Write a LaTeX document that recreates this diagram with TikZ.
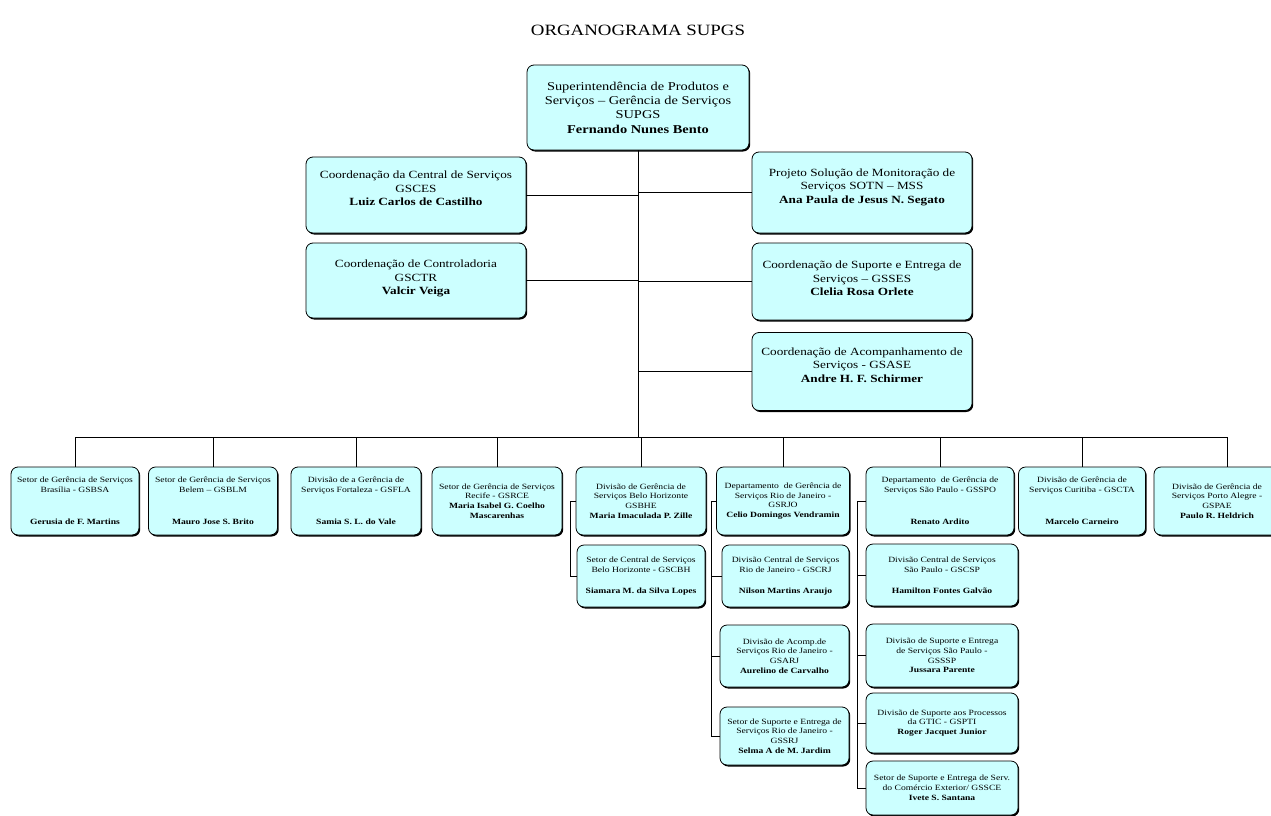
\documentclass[tikz,border=0pt]{standalone}
\usepackage{fontspec}
\setmainfont[FakeStretch=1.2]{Liberation Serif}
\usepackage{tikz}
\usetikzlibrary{positioning, shadows}

\definecolor{boxfill}{RGB}{204,255,255}

\tikzset{
	unit/.style={draw, thick, fill=boxfill, rounded corners=7pt, align=center, inner sep=1pt,
		drop shadow={shadow xshift=1.2pt, shadow yshift=-1.5pt, fill=black, opacity=1}},
	dims/.style 2 args={minimum width=#1pt, minimum height=#2pt},
	topunit/.style={unit, font=\fontsize{12}{14.3}\selectfont},
	midunit/.style={unit, font=\fontsize{11}{13.5}\selectfont},
	lowunit/.style={unit, font=\fontsize{8}{9.8}\selectfont},
	link/.style={draw, line width=1pt}
}

\begin{document}
\begin{tikzpicture}[x=1pt, y=-1pt]
	\useasboundingbox (0,0) rectangle (1271,816);
	
	\node (title) at (638,30) {\fontsize{15.7}{18}\selectfont ORGANOGRAMA SUPGS};
	
	% direction
	\node (sup) [topunit, dims={222}{85}] at (638,107.5) {Superintendência de Produtos e\\Serviços -- Gerência de Serviços\\SUPGS\\\textbf{Fernando Nunes Bento}};
	
	% coordenacoes
	\node (gsces) [midunit, dims={220}{76}] at (416,195) {Coordenação da Central de Serviços\\GSCES\\\textbf{Luiz Carlos de Castilho}\\\mbox{}};
	\node (gsctr) [midunit, dims={220}{75}] at (416,280.5) {Coordenação de Controladoria\\GSCTR\\\textbf{Valcir Veiga}\\[-7pt]\mbox{}};
	\node (sotn) [midunit, dims={220}{81}] at (862,192.5) {Projeto Solução de Monitoração de\\Serviços SOTN -- MSS\\\textbf{Ana Paula de Jesus N. Segato}\\\mbox{}};
	\node (gsses) [midunit, dims={220}{77}] at (862,281.5) {Coordenação de Suporte e Entrega de\\Serviços -- GSSES\\\textbf{Clelia Rosa Orlete}\\[-7pt]\mbox{}};
	\node (gsase) [midunit, dims={220}{78}] at (862,371.5) {Coordenação de Acompanhamento de\\Serviços - GSASE\\\textbf{Andre H. F. Schirmer}\\\mbox{}};
	
	% gerencias regionais
	\node (gsbsa) [lowunit, dims={128}{68}] at (75,501) {Setor de Gerência de Serviços\\Brasília - GSBSA\\[22pt]\textbf{Gerusia de F. Martins}};
	\node (gsblm) [lowunit, dims={129}{68}] at (213,501) {Setor de Gerência de Serviços\\Belem -- GSBLM\\[22pt]\textbf{Mauro Jose S. Brito}};
	\node (gsfla) [lowunit, dims={130}{68}] at (356,501) {Divisão de a Gerência de\\Serviços Fortaleza - GSFLA\\[22pt]\textbf{Samia S. L. do Vale}};
	\node (gsrce) [lowunit, dims={130}{68}] at (497,501) {Setor de Gerência de Serviços\\Recife - GSRCE\\\textbf{Maria Isabel G. Coelho}\\\textbf{Mascarenhas}};
	\node (gsbhe) [lowunit, dims={130}{68}] at (641,501) {Divisão de Gerência de\\Serviços Belo Horizonte\\GSBHE\\\textbf{Maria Imaculada P. Zille}};
	\node (gsrjo) [lowunit, dims={133}{68}] at (783,501) {Departamento\ \ de Gerência de\\Serviços Rio de Janeiro -\\GSRJO\\\textbf{Celio Domingos Vendramin}};
	\node (gsspo) [lowunit, dims={148}{68}] at (940,501) {Departamento\ \ de Gerência de\\Serviços São Paulo - GSSPO\\[22pt]\textbf{Renato Ardito}};
	\node (gscta) [lowunit, dims={127}{68}] at (1082,501) {Divisão de Gerência de\\Serviços Curitiba - GSCTA\\[22pt]\textbf{Marcelo Carneiro}};
	\node (gspae) [lowunit, dims={126}{68}] at (1217,501) {Divisão de Gerência de\\Serviços Porto Alegre -\\GSPAE\\\textbf{Paulo R. Heldrich}};
	
	% setores e divisoes
	\node (gscbh) [lowunit, dims={128}{62}] at (641,576) {Setor de Central de Serviços\\Belo Horizonte - GSCBH\\[11pt]\textbf{Siamara M. da Silva Lopes}};
	
	\node (gscrj) [lowunit, dims={127}{62}] at (785.5,576) {Divisão Central de Serviços\\Rio de Janeiro - GSCRJ\\[11pt]\textbf{Nilson Martins Araujo}};
	\node (gsarj) [lowunit, dims={129}{62}] at (784.5,656) {Divisão de Acomp.de\\Serviços Rio de Janeiro -\\GSARJ\\\textbf{Aurelino de Carvalho}};
	\node (gssrj) [lowunit, dims={129}{58}] at (784.5,736) {Setor de Suporte e Entrega de\\Serviços Rio de Janeiro -\\GSSRJ\\\textbf{Selma A de M. Jardim}};
	
	\node (gscsp) [lowunit, dims={152}{62}] at (942,575) {Divisão Central de Serviços\\São Paulo - GSCSP\\[11pt]\textbf{Hamilton Fontes Galvão}};
	\node (gsssp) [lowunit, dims={152}{63}] at (942,655.5) {Divisão de Suporte e Entrega\\de Serviços São Paulo -\\GSSSP\\\textbf{Jussara Parente}};
	\node (gspti) [lowunit, dims={152}{60}] at (942,723) {Divisão de Suporte aos Processos\\da GTIC - GSPTI\\\textbf{Roger Jacquet Junior}};
	\node (gssce) [lowunit, dims={152}{54}] at (942,788) {Setor de Suporte e Entrega de Serv.\\do Comércio Exterior/ GSSCE\\\textbf{Ivete S. Santana}};
	
	% ligacoes
	\coordinate (bus) at (638,437);
	\path [link] (sup.south) -- (bus);
	\foreach \n in {gsces, gsctr}
		\path [link] (\n.east) -- (\n.east -| sup.south);
	\foreach \n in {sotn, gsses, gsase}
		\path [link] (\n.west) -- (\n.west -| sup.south);
	
	\path [link] (gsbsa.north) |- ([xshift=10pt]gspae.north |- bus) -- ([xshift=10pt]gspae.north);
	\foreach \n in {gsblm, gsfla, gsrce, gsbhe, gsrjo, gsspo, gscta}
		\path [link] (\n.north) -- (\n.north |- bus);
	
	\path [link] (gsbhe.west) -- ++(-5,0) |- (gscbh.west);
	\foreach \n in {gscrj, gsarj, gssrj}
		\path [link] (gsrjo.west) -- ++(-5,0) |- (\n.west);
	\foreach \n in {gscsp, gsssp, gspti, gssce}
		\path [link] (gsspo.west) -- ++(-8,0) |- (\n.west);
	
\end{tikzpicture}
\end{document}
